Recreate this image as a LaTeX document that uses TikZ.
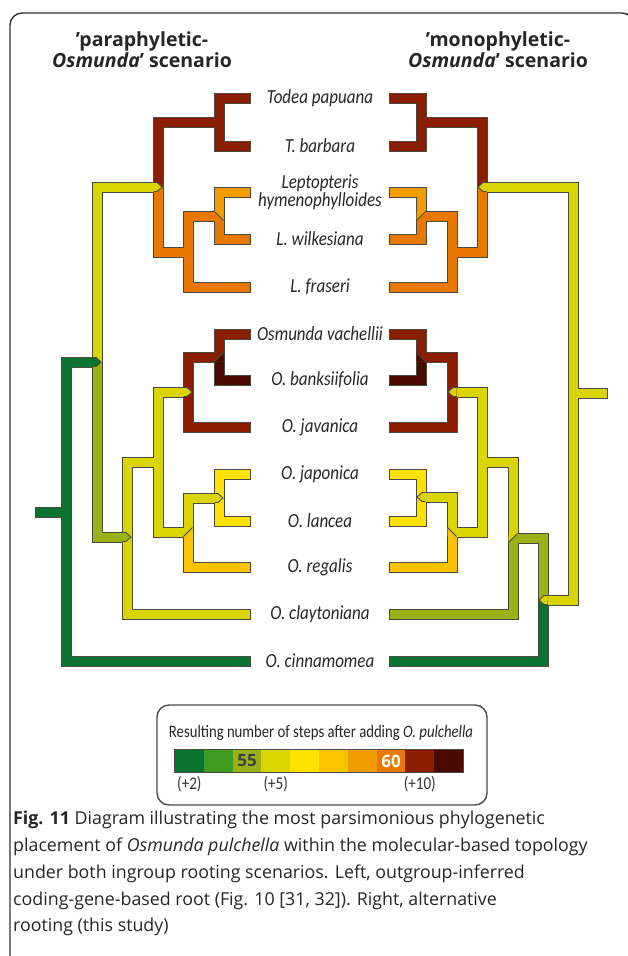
\documentclass[tikz,border=0pt]{standalone}
\usepackage{fontspec}
\setmainfont{Open Sans}
\newfontfamily\taxfont[FakeStretch=0.85]{Carlito}
\newfontfamily\legfont[FakeStretch=0.84]{Carlito}
\usetikzlibrary{positioning}
\pgfdeclarelayer{background}
\pgfsetlayers{background,main}
\definecolor{stA}{HTML}{0B7330}
\definecolor{stB}{HTML}{3F9B22}
\definecolor{stC}{HTML}{9BB215}
\definecolor{stD}{HTML}{DAD500}
\definecolor{stE}{HTML}{FFE100}
\definecolor{stF}{HTML}{F9C300}
\definecolor{stG}{HTML}{F39C00}
\definecolor{stH}{HTML}{E87800}
\definecolor{stI}{HTML}{8B1D00}
\definecolor{stJ}{HTML}{4B0A00}
\definecolor{edgegray}{HTML}{4A4A40}
% one branch: dark rim on the background layer, colour on top
\newcommand\branch[2]{%
  \begin{pgfonlayer}{background}\draw[brout] #2;\end{pgfonlayer}
  \draw[br,#1] #2;}
% pointed joins
\newcommand\tipR[3]{\filldraw[tip,fill=#3] ({#1-4.5},{#2-4.5}) -- ({#1-1},{#2-4.5}) -- ({#1+4},#2) -- ({#1-1},{#2+4.5}) -- ({#1-4.5},{#2+4.5});}
\newcommand\tipL[3]{\filldraw[tip,fill=#3] ({#1+4.5},{#2-4.5}) -- ({#1+1},{#2-4.5}) -- ({#1-4},#2) -- ({#1+1},{#2+4.5}) -- ({#1+4.5},{#2+4.5});}
\begin{document}
\begin{tikzpicture}[x=1pt,y=-1pt,line join=miter,
    br/.style={line width=9,line cap=butt},
    brout/.style={line width=11,line cap=butt,draw=edgegray,shorten <=-1,shorten >=-1},
    tip/.style={draw=edgegray,line width=0.9},
    frame/.style={draw=black!80,line width=1.4},
    taxon/.style={font=\taxfont\itshape\fontsize{20}{17}\selectfont,align=center,inner sep=0,text=black!85},
    head/.style={font=\bfseries\fontsize{19.5}{21}\selectfont,align=center,inner sep=0,text=black!85},
    cell/.style={minimum width=28.8,minimum height=22,inner sep=0,draw=none},
    steplbl/.style={font=\legfont\fontsize{18}{18}\selectfont,inner sep=0,text=black!80}]
\useasboundingbox (0,0) rectangle (627,956);
\draw[frame,rounded corners=12] (10,1000) rectangle (634,13);

% headings
\node[head,anchor=north] (lhead) at (142,31) {’paraphyletic-\\\textit{Osmunda}’ scenario};
\node[head,anchor=north] (rhead) at (498,31) {’monophyletic-\\\textit{Osmunda}’ scenario};

% taxa
\foreach \nm/\yy/\txt in {todea/98/Todea papuana, tbarb/146/T. barbara,
    lhym/192/{Leptopteris\\hymenophylloides}, lwilk/239/L. wilkesiana, lfras/287/L. fraseri,
    ovach/334/Osmunda vachellii, obank/380/O. banksiifolia, ojav/427/O. javanica,
    ojap/474/O. japonica, olanc/521/O. lancea, oreg/567/O. regalis,
    oclay/614/O. claytoniana, ocinn/661/O. cinnamomea}
  \node[taxon] (\nm) at (320,\yy) {\txt};

% left tree
\branch{stI}{(250,98) -- (219,98) -- (219,146) -- (250,146)}
\branch{stI}{(219,122) -- (158,122) -- (158,187)}
\branch{stH}{(158,187) -- (158,252) -- (188,252)}
\branch{stH}{(250,287) -- (188,287) -- (188,216) -- (219,216) -- (219,239) -- (250,239)}
\branch{stG}{(250,192) -- (219,192) -- (219,211.5)}
\branch{stD}{(157,187) -- (97,187) -- (97,362)}
\branch{stA}{(96,362) -- (66,362) -- (66,661) -- (250,661)}
\branch{stA}{(36,512) -- (66,512)}
\branch{stC}{(97,362) -- (97,537) -- (126,537)}
\branch{stD}{(250,614) -- (127,614) -- (127,462) -- (158,462)}
\branch{stD}{(187,392) -- (158,392) -- (158,532) -- (188,532) -- (188,498) -- (218,498)}
\branch{stF}{(250,567) -- (188,567) -- (188,536.5)}
\branch{stE}{(250,474) -- (219,474) -- (219,521) -- (250,521)}
\branch{stI}{(250,334) -- (219,334) -- (219,357) -- (188,357) -- (188,427) -- (250,427)}
\branch{stJ}{(250,380) -- (219,380) -- (219,361.5)}
\fill[stG] (214.5,211.5) -- (223.5,211.5) -- (223.5,220.5) -- cycle;
\draw[tip] (214.5,211.5) -- (223.5,220.5);
\fill[stJ] (223.5,352.5) -- (223.5,361.5) -- (214.5,361.5) -- cycle;
\draw[tip] (214.5,361.5) -- (223.5,352.5);
\fill[stF] (192.5,527.5) -- (192.5,536.5) -- (183.5,536.5) -- cycle;
\draw[tip] (183.5,536.5) -- (192.5,527.5);
\tipR{158}{187}{stD}
\tipR{97}{362}{stA}
\tipR{127}{537}{stC}
\tipR{188}{392}{stD}
\tipR{219}{498}{stD}

% right tree
\branch{stI}{(390,98) -- (421,98) -- (421,146) -- (390,146)}
\branch{stI}{(421,122) -- (482,122) -- (482,187)}
\branch{stH}{(482,187) -- (482,252) -- (452,252)}
\branch{stH}{(390,287) -- (452,287) -- (452,216) -- (421,216) -- (421,239) -- (390,239)}
\branch{stG}{(390,192) -- (421,192) -- (421,211.5)}
\branch{stD}{(483,187) -- (573,187) -- (573,600) -- (544,600)}
\branch{stD}{(573,393) -- (607,393)}
\branch{stA}{(543,600) -- (543,661) -- (390,661)}
\branch{stC}{(543,600) -- (543,538) -- (513,538) -- (513,614) -- (390,614)}
\branch{stD}{(513,533.5) -- (513,462) -- (482,462)}
\branch{stD}{(453,392) -- (482,392) -- (482,532) -- (452,532) -- (452,497) -- (422,497)}
\branch{stF}{(390,567) -- (452,567) -- (452,536.5)}
\branch{stE}{(390,474) -- (421,474) -- (421,521) -- (390,521)}
\branch{stI}{(390,334) -- (421,334) -- (421,357) -- (452,357) -- (452,427) -- (390,427)}
\branch{stJ}{(390,380) -- (421,380) -- (421,361.5)}
\fill[stG] (416.5,211.5) -- (425.5,211.5) -- (416.5,220.5) -- cycle;
\draw[tip] (425.5,211.5) -- (416.5,220.5);
\fill[stJ] (416.5,352.5) -- (416.5,361.5) -- (425.5,361.5) -- cycle;
\draw[tip] (416.5,352.5) -- (425.5,361.5);
\fill[stF] (447.5,527.5) -- (447.5,536.5) -- (456.5,536.5) -- cycle;
\draw[tip] (447.5,527.5) -- (456.5,536.5);
\fill[stD] (508.5,533.5) -- (517.5,533.5) -- (508.5,542.5) -- cycle;
\draw[tip] (517.5,533.5) -- (508.5,542.5);
\tipL{482}{187}{stD}
\tipL{543}{600}{stD}
\tipL{452}{392}{stD}
\tipL{421}{497}{stD}

% legend
\draw[frame,draw=black!70,rounded corners=12] (157,705) rectangle (487,805);
\node[font=\legfont\fontsize{17.5}{17.5}\selectfont,inner sep=0,text=black!85] (ltitle) at (321,733)
  {Resulting number of steps after adding \textit{O. pulchella}};
\foreach \c [count=\i] in {stA,stB,stC,stD,stE,stF,stG,stH,stI,stJ}
  \node[cell,fill=\c] (cell\i) at ({175+(\i-0.5)*28.8},761) {};
\draw[edgegray,line width=1] (cell1.north west) rectangle (cell10.south east);
\node[font=\bfseries\fontsize{17}{17}\selectfont,text=black!75] at (cell3) {55};
\node[font=\bfseries\fontsize{17}{17}\selectfont,text=white] at (cell8) {60};
\node[steplbl,below=4pt of cell1] (p2) {(+2)};
\node[steplbl,below=4pt of cell4] (p5) {(+5)};
\node[steplbl,below=4pt of cell9] (p10) {(+10)};

% caption
\node[anchor=north west,align=left,inner sep=0,font=\fontsize{17.8}{26.8}\selectfont,text=black!85] (cap) at (13,811)
  {\textbf{Fig. 11} Diagram illustrating the most parsimonious phylogenetic\\
   placement of \textit{Osmunda pulchella} within the molecular-based topology\\
   under both ingroup rooting scenarios. Left, outgroup-inferred\\
   coding-gene-based root (Fig. 10 [31, 32]). Right, alternative\\
   rooting (this study)};
\end{tikzpicture}
\end{document}
